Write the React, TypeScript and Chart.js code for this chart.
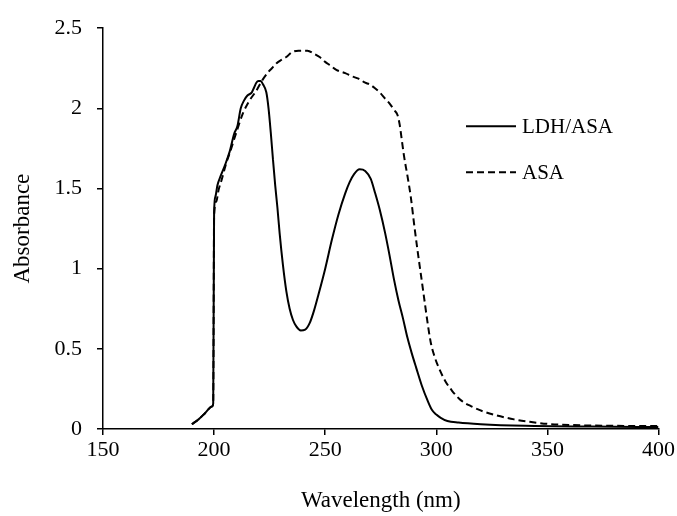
import { useEffect, useRef } from 'react';
import { Chart, registerables } from 'chart.js';

Chart.register(...registerables);

// ---- Data ----
const ldhWavelength = [
  190, 193, 196, 199, 199.6, 200, 200.6, 201.5, 203, 205, 207, 209, 210.5, 212, 213.5, 215, 217, 218, 219, 220,
  221, 222, 223.5, 224.5, 225.5, 226.5, 227.5, 228.5, 229.5, 231, 232.5, 234, 235.5, 237, 239, 241, 243, 245, 247,
  250, 253, 256, 259, 261, 263, 265.5, 268, 270.5, 272.5, 274.5, 277, 279, 281, 283, 285, 287, 289, 291, 293.5,
  296, 298, 300, 302, 305, 310, 320, 340, 370, 400,
];
const ldhAbsorbance = [
  0.03, 0.06, 0.1, 0.14, 0.16, 1.35, 1.45, 1.52, 1.58, 1.65, 1.73, 1.84, 1.89, 2.0, 2.05, 2.08, 2.1, 2.13, 2.16, 2.17,
  2.17, 2.15, 2.1, 2.0, 1.85, 1.68, 1.52, 1.38, 1.22, 1.02, 0.86, 0.75, 0.68, 0.64, 0.615, 0.62, 0.66, 0.74, 0.84,
  1.0, 1.18, 1.34, 1.47, 1.54, 1.59, 1.62, 1.61, 1.56, 1.47, 1.37, 1.22, 1.08, 0.93, 0.8, 0.69, 0.57, 0.47, 0.38, 0.27,
  0.18, 0.12, 0.09, 0.07, 0.05, 0.04, 0.03, 0.02, 0.015, 0.012,
];
const asaWavelength = [
  190, 193, 196, 199, 199.6, 200, 201, 202, 203.5, 205.5, 207, 210, 213, 216, 219, 221, 224, 226, 228, 230, 232.5,
  235, 238, 242, 245, 247.5, 250, 252, 255, 259, 262, 265, 268, 270, 272, 274.5, 277, 279, 281, 282.5, 283.5, 284.5,
  285.5, 287, 288.5, 290, 291.5, 293, 294.5, 296, 297.5, 299.5, 301.5, 304, 307, 311, 316, 321, 327, 335, 342, 350,
  360, 380, 400,
];
const asaAbsorbance = [
  0.03, 0.06, 0.1, 0.14, 0.16, 1.33, 1.42, 1.49, 1.56, 1.66, 1.72, 1.85, 1.97, 2.05, 2.11, 2.16, 2.22, 2.25, 2.28, 2.3,
  2.32, 2.35, 2.36, 2.36, 2.34, 2.32, 2.29, 2.27, 2.24, 2.22, 2.2, 2.185, 2.16, 2.15, 2.13, 2.1, 2.06, 2.03, 1.99, 1.96,
  1.9, 1.8, 1.7, 1.58, 1.45, 1.28, 1.12, 0.97, 0.82, 0.67, 0.54, 0.44, 0.37, 0.3, 0.24, 0.18, 0.14, 0.11, 0.085, 0.06,
  0.045, 0.032, 0.025, 0.02, 0.018,
];
const seriesNames = ['LDH/ASA', 'ASA'];
const xTitle = 'Wavelength (nm)';
const yTitle = 'Absorbance';
const xMin = 150;
const xMax = 400;
const xStep = 50;
const yMin = 0;
const yMax = 2.5;
const yStep = 0.5;

const FONT = "'Liberation Serif', 'Times New Roman', serif";
const DASH = [7, 4];

export default function App() {
  const ref = useRef<HTMLCanvasElement | null>(null);

  useEffect(() => {
    if (!ref.current) return;

    const legendPlugin = {
      id: 'insideLegend',
      afterDraw(chart: any) {
        const ctx = chart.ctx as CanvasRenderingContext2D;
        const { left, top } = chart.chartArea;
        const x0 = left + 363;
        const x1 = left + 413;
        const rows = [top + 98, top + 144];
        ctx.save();
        chart.data.datasets.forEach((ds: any, i: number) => {
          const y = rows[i];
          ctx.beginPath();
          ctx.strokeStyle = '#000';
          ctx.lineWidth = 2;
          ctx.setLineDash(ds.borderDash || []);
          ctx.moveTo(x0, y);
          ctx.lineTo(x1, y);
          ctx.stroke();
          ctx.setLineDash([]);
          ctx.fillStyle = '#000';
          ctx.font = `21px ${FONT}`;
          ctx.textBaseline = 'middle';
          ctx.textAlign = 'left';
          ctx.fillText(ds.label, x1 + 6, y + 1);
        });
        ctx.restore();
      },
    };

    const chart = new Chart(ref.current, {
      type: 'line',
      data: {
        datasets: [
          {
            label: seriesNames[0],
            data: ldhWavelength.map((w, i) => ({ x: w, y: ldhAbsorbance[i] })),
            borderColor: '#000',
            borderWidth: 2,
            pointRadius: 0,
            fill: false,
            cubicInterpolationMode: 'monotone',
          },
          {
            label: seriesNames[1],
            data: asaWavelength.map((w, i) => ({ x: w, y: asaAbsorbance[i] })),
            borderColor: '#000',
            borderWidth: 2,
            borderDash: DASH,
            pointRadius: 0,
            fill: false,
            cubicInterpolationMode: 'monotone',
          },
        ],
      },
      options: {
        responsive: false,
        animation: false,
        devicePixelRatio: 1,
        layout: { padding: { left: 0, right: 17, top: 24, bottom: 0 } },
        plugins: {
          legend: { display: false },
          tooltip: { enabled: false },
        },
        scales: {
          x: {
            type: 'linear',
            position: 'bottom',
            min: xMin,
            max: xMax,
            ticks: {
              stepSize: xStep,
              color: '#000',
              font: { family: FONT, size: 22 },
              padding: 2,
              maxRotation: 0,
              callback: (v: any) => String(v),
            },
            grid: { drawOnChartArea: false, drawTicks: true, tickLength: 6, color: '#000', lineWidth: 1.5 },
            border: { display: true, color: '#000', width: 1.5 },
            title: {
              display: true,
              text: xTitle,
              color: '#000',
              font: { family: FONT, size: 23 },
              padding: { top: 0, bottom: 1 },
            },
            afterFit: (s: any) => {
              s.height = 87;
            },
          },
          y: {
            type: 'linear',
            position: 'left',
            min: yMin,
            max: yMax,
            ticks: {
              stepSize: yStep,
              color: '#000',
              font: { family: FONT, size: 22 },
              padding: 15,
              callback: (v: any) => String(v),
            },
            grid: { drawOnChartArea: false, drawTicks: true, tickLength: 6, color: '#000', lineWidth: 1.5 },
            border: { display: true, color: '#000', width: 1.5 },
            title: {
              display: true,
              text: yTitle,
              color: '#000',
              font: { family: FONT, size: 23 },
              padding: { top: 9, bottom: 0 },
            },
            afterFit: (s: any) => {
              s.width = 103;
            },
          },
        },
      },
      plugins: [legendPlugin],
    } as any);

    return () => chart.destroy();
  }, []);

  return (
    <div style={{ position: 'fixed', left: 0, top: 0, width: 677, height: 516, background: '#fff' }}>
      <canvas ref={ref} width={677} height={516} style={{ display: 'block', width: 677, height: 516 }} />
    </div>
  );
}
